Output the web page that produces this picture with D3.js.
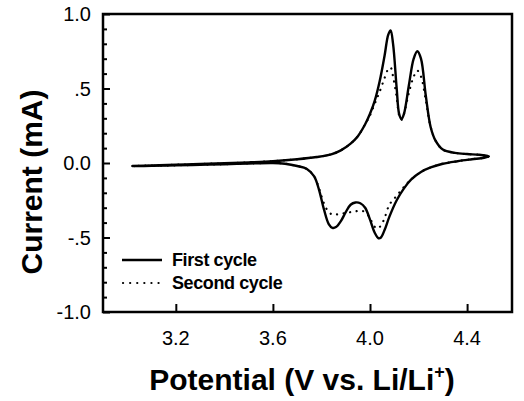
<!DOCTYPE html>
<html><head><meta charset="utf-8">
<script src="https://cdn.jsdelivr.net/npm/d3@7"></script>
<style>
html,body{margin:0;padding:0;background:#fff;}
svg{display:block;}
text{font-family:"Liberation Sans",Arial,Helvetica,sans-serif;fill:#000;}
</style></head>
<body>
<svg id="chart" width="524" height="401"></svg>
<script>
// ---- data (potential V, current mA) along the sweep ----
const firstV = [3.02,3.10,3.20,3.30,3.40,3.50,3.60,3.70,3.78,3.84,3.88,3.92,3.95,3.98,4.00,4.02,4.04,4.06,4.075,4.085,4.095,4.11,4.12,4.13,4.14,4.16,4.18,4.195,4.21,4.23,4.25,4.27,4.30,4.35,4.40,4.45,4.49,
  4.47,4.42,4.36,4.30,4.25,4.21,4.17,4.14,4.11,4.08,4.06,4.045,4.035,4.02,4.00,3.98,3.96,3.94,3.92,3.90,3.88,3.86,3.845,3.83,3.81,3.79,3.77,3.74,3.70,3.65,3.60,3.50,3.40,3.30,3.20,3.10,3.02];
const firstI = [-0.020,-0.017,-0.012,-0.007,-0.002,0.004,0.012,0.025,0.040,0.058,0.085,0.13,0.18,0.26,0.33,0.42,0.55,0.72,0.86,0.89,0.80,0.50,0.33,0.295,0.33,0.52,0.70,0.75,0.70,0.45,0.24,0.15,0.09,0.068,0.060,0.055,0.045,
  0.035,0.025,0.012,-0.005,-0.03,-0.06,-0.11,-0.17,-0.25,-0.36,-0.45,-0.50,-0.505,-0.47,-0.38,-0.30,-0.27,-0.265,-0.28,-0.33,-0.39,-0.43,-0.435,-0.41,-0.31,-0.18,-0.09,-0.04,-0.02,-0.005,0.0,-0.003,-0.008,-0.012,-0.016,-0.019,-0.021];
const secondV = [3.02,3.10,3.20,3.30,3.40,3.50,3.60,3.70,3.78,3.84,3.88,3.92,3.95,3.98,4.00,4.02,4.04,4.06,4.075,4.085,4.095,4.11,4.12,4.13,4.14,4.16,4.18,4.195,4.21,4.23,4.25,4.27,4.30,4.35,4.40,4.45,4.49,
  4.47,4.42,4.36,4.30,4.25,4.21,4.17,4.14,4.11,4.08,4.06,4.045,4.03,4.015,4.00,3.98,3.96,3.94,3.92,3.90,3.88,3.86,3.845,3.83,3.81,3.79,3.77,3.74,3.70,3.65,3.60,3.50,3.40,3.30,3.20,3.10,3.02];
const secondI = [-0.020,-0.017,-0.012,-0.007,-0.002,0.004,0.012,0.025,0.040,0.058,0.085,0.13,0.18,0.26,0.32,0.40,0.48,0.57,0.63,0.64,0.58,0.44,0.32,0.29,0.33,0.47,0.58,0.62,0.58,0.42,0.24,0.15,0.09,0.068,0.060,0.055,0.045,
  0.035,0.025,0.012,-0.005,-0.03,-0.06,-0.11,-0.16,-0.22,-0.28,-0.37,-0.42,-0.44,-0.42,-0.37,-0.33,-0.32,-0.325,-0.33,-0.335,-0.34,-0.345,-0.345,-0.33,-0.27,-0.17,-0.09,-0.04,-0.02,-0.005,0.0,-0.003,-0.008,-0.012,-0.016,-0.019,-0.021];
const xTicks = [3.2,3.6,4.0,4.4];
const xTickLabels = ["3.2","3.6","4.0","4.4"];
const yTicks = [-1.0,-0.5,0.0,0.5,1.0];
const yTickLabels = ["-1.0","-.5","0.0",".5","1.0"];
const yMinor = [-0.9,-0.8,-0.7,-0.6,-0.4,-0.3,-0.2,-0.1,0.1,0.2,0.3,0.4,0.6,0.7,0.8,0.9];
const legendLabels = ["First cycle","Second cycle"];

const svg = d3.select("#chart");
const L = 103, R = 512, T = 14, B = 312;
const x = d3.scaleLinear().domain([2.9, 4.585]).range([L, R]);
const y = d3.scaleLinear().domain([-1, 1]).range([B, T]);

// curves
const line = d3.line().x(d => x(d[0])).y(d => y(d[1])).curve(d3.curveCatmullRom.alpha(0.5));
const first = firstV.map((v, i) => [v, firstI[i]]);
const second = secondV.map((v, i) => [v, secondI[i]]);
svg.append("path").attr("d", line(second)).attr("fill", "none").attr("stroke", "#000")
  .attr("stroke-width", 2.2).attr("stroke-dasharray", "0.1,6.5").attr("stroke-linecap", "round");
svg.append("path").attr("d", line(first)).attr("fill", "none").attr("stroke", "#000")
  .attr("stroke-width", 2.4).attr("stroke-linejoin", "round");

// axes (ticks inward)
const fmtY = d => yTickLabels[yTicks.indexOf(d)];
const fmtX = d => xTickLabels[xTicks.indexOf(d)];
const gy = svg.append("g").attr("transform", `translate(${L},0)`)
  .call(d3.axisRight(y).tickValues(yTicks).tickSize(7).tickFormat(""));
const gyMinor = svg.append("g").attr("transform", `translate(${L},0)`)
  .call(d3.axisRight(y).tickValues(yMinor).tickSize(4).tickFormat(""));
const gx = svg.append("g").attr("transform", `translate(0,${B})`)
  .call(d3.axisTop(x).tickValues(xTicks).tickSize(8).tickFormat(""));
[gy, gyMinor, gx].forEach(g => {
  g.select(".domain").remove();
  g.selectAll("line").attr("stroke", "#000").attr("stroke-width", 2);
});

// tick labels
svg.append("g").selectAll("text").data(yTicks).join("text")
  .attr("x", 91).attr("y", d => y(d) + 7).attr("text-anchor", "end")
  .attr("font-size", 20).text(fmtY);
svg.append("g").selectAll("text").data(xTicks).join("text")
  .attr("x", d => x(d)).attr("y", 345).attr("text-anchor", "middle")
  .attr("font-size", 20).text(fmtX);

// frame
svg.append("rect").attr("x", L).attr("y", T).attr("width", R - L).attr("height", B - T)
  .attr("fill", "none").attr("stroke", "#000").attr("stroke-width", 2.5);

// axis titles
svg.append("text").attr("transform", "translate(42,182) rotate(-90)")
  .attr("text-anchor", "middle").attr("font-size", 30).attr("font-weight", "bold")
  .text("Current (mA)");
const xt = svg.append("text").attr("x", 302).attr("y", 390).attr("text-anchor", "middle")
  .attr("font-size", 30).attr("font-weight", "bold");
xt.append("tspan").text("Potential (V vs. Li/Li");
xt.append("tspan").attr("dy", -12).attr("font-size", 18).text("+");
xt.append("tspan").attr("dy", 12).text(")");

// legend
const lg = svg.append("g");
lg.append("line").attr("x1", 122).attr("x2", 162).attr("y1", 260).attr("y2", 260)
  .attr("stroke", "#000").attr("stroke-width", 2.4);
lg.append("line").attr("x1", 123).attr("x2", 162).attr("y1", 283).attr("y2", 283)
  .attr("stroke", "#000").attr("stroke-width", 2.2).attr("stroke-dasharray", "0.1,7").attr("stroke-linecap", "round");
lg.selectAll("text").data(legendLabels).join("text")
  .attr("x", 172).attr("y", (d, i) => 266 + i * 23)
  .attr("font-size", 18).attr("font-weight", "bold").attr("letter-spacing", -0.4).text(d => d);
</script>
</body></html>
